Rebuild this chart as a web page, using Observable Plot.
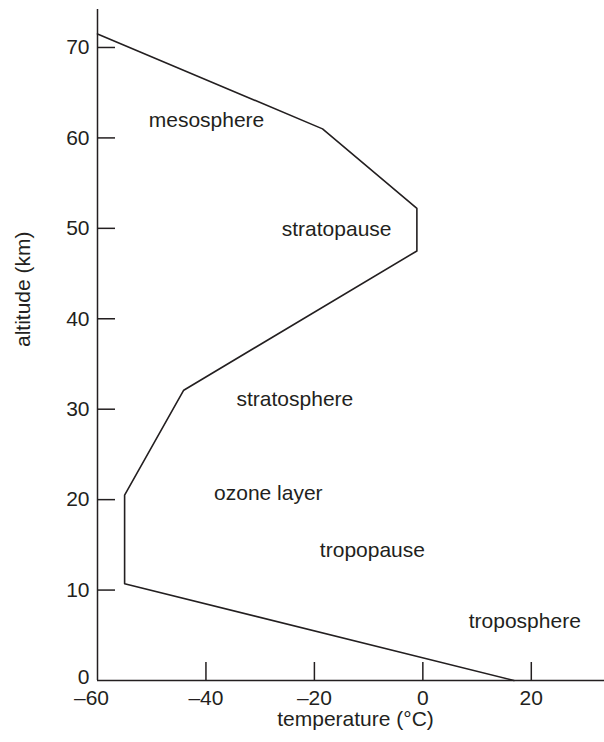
<!DOCTYPE html>
<html>
<head>
<meta charset="utf-8">
<script src="https://cdn.jsdelivr.net/npm/d3@7"></script>
<script src="https://cdn.jsdelivr.net/npm/@observablehq/plot@0.6"></script>
<style>
  html, body { margin: 0; padding: 0; background: #fff; }
</style>
</head>
<body>
<div id="chart"></div>
<script>
// Temperature profile of the atmosphere
const temps = [-60, -18.5, -1.1, -1.1, -44.1, -55, -55, 16.8];
const alts  = [71.5, 61.0, 52.2, 47.5, 32.1, 20.5, 10.7, 0];

// Layer annotations
const layerNames = ["mesosphere", "stratopause", "stratosphere", "ozone layer", "tropopause", "troposphere"];
const layerTemps = [-39.9, -15.9, -23.6, -28.5, -9.3, 18.8];
const layerAlts  = [62.0, 49.95, 31.07, 20.65, 14.38, 6.57];

// Ticks
const xTickLabels = [-60, -40, -20, 0, 20];
const xTickMarks  = [-40, -20, 0, 20];
const yTickLabels = [0, 10, 20, 30, 40, 50, 60, 70];
const yTickMarks  = [10, 20, 30, 40, 50, 60, 70];

const xTitle = "temperature (°C)";
const yTitle = "altitude (km)";

const profile = temps.map((t, i) => ({temp: t, alt: alts[i]}));
const layers = layerNames.map((n, i) => ({name: n, temp: layerTemps[i], alt: layerAlts[i]}));

const ink = "#231f20";
const font = "'Liberation Sans', Arial, Helvetica, sans-serif";
const fmt = d => d < 0 ? "\u2013" + Math.abs(d) : String(d);

const chart = Plot.plot({
  width: 604,
  height: 742,
  marginLeft: 97,
  marginRight: 0,
  marginTop: 9,
  marginBottom: 62,
  style: {fontFamily: font, fontSize: "21px", color: ink, background: "#fff"},
  x: {domain: [-60, 33.5]},
  y: {domain: [0, 74.2]},
  marks: [
    Plot.ruleX([-60], {stroke: ink, strokeWidth: 1.5}),
    Plot.ruleY([0], {stroke: ink, strokeWidth: 1.5}),
    // inward tick marks
    Plot.axisX(xTickMarks, {anchor: "bottom", tickSize: -18, text: null, label: null, stroke: ink, strokeWidth: 1.5}),
    Plot.axisY(yTickMarks, {anchor: "left", tickSize: -18, text: null, label: null, stroke: ink, strokeWidth: 1.5}),
    // tick labels
    Plot.axisX(xTickLabels.filter(d => d !== -60), {anchor: "bottom", tickSize: 0, tickPadding: 9.5, tickFormat: fmt, label: null, fontSize: 21, fill: ink}),
    Plot.axisX([-60], {anchor: "bottom", tickSize: 0, tickPadding: 10, tickFormat: fmt, label: null, fontSize: 21, fill: ink, dx: -6}),
    Plot.axisY(yTickLabels.filter(d => d !== 0), {anchor: "left", tickSize: 0, tickPadding: 8, tickFormat: fmt, label: null, fontSize: 21, fill: ink}),
    Plot.axisY([0], {anchor: "left", tickSize: 0, tickPadding: 8, tickFormat: fmt, label: null, fontSize: 21, fill: ink, dy: -3}),
    // axis titles
    Plot.text([xTitle], {frameAnchor: "bottom", dy: 45.6, dx: 4.5, text: d => d, fontSize: 21, fill: ink}),
    Plot.text([yTitle], {frameAnchor: "left", dx: -74, dy: 2, rotate: -90, text: d => d, fontSize: 21, fill: ink}),
    // profile line
    Plot.line(profile, {x: "temp", y: "alt", stroke: ink, strokeWidth: 1.6, curve: "linear"}),
    // layer labels
    Plot.text(layers, {x: "temp", y: "alt", text: "name", fontSize: 21, fill: ink})
  ]
});
document.getElementById("chart").appendChild(chart);
</script>
</body>
</html>
